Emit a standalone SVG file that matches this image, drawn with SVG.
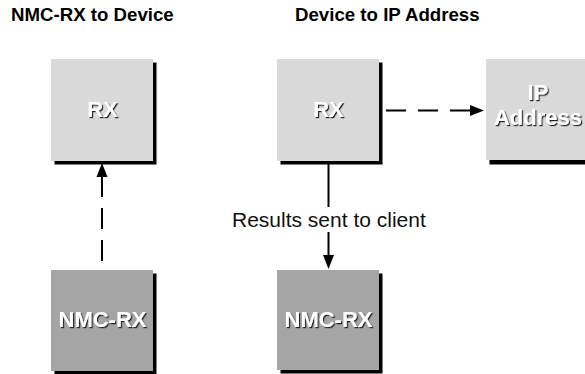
<svg xmlns="http://www.w3.org/2000/svg" width="585" height="374" viewBox="0 0 585 374">
  <defs>
    <!-- embossed look for the box labels: white face, dark edge down-right -->
    <filter id="emboss" x="-10%" y="-20%" width="130%" height="150%">
      <feDropShadow dx="1.2" dy="1.2" stdDeviation="0.3" flood-color="#222" flood-opacity="1"/>
    </filter>
  </defs>
  <style>
    .title { font-family: "Liberation Sans", Arial, sans-serif; font-weight: bold; font-size: 18.67px; fill: #000; }
    .note { font-family: "Liberation Sans", Arial, sans-serif; font-size: 21px; fill: #111; }
    .shadow { fill: #000; }
    .light { fill: #dadada; }
    .dark { fill: #a5a5a5; }
    .lbl { font-family: "Liberation Sans", Arial, sans-serif; font-weight: bold; font-size: 22px; text-anchor: middle; fill: #fff; filter: url(#emboss); }
    .wire { stroke: #000; stroke-width: 2; fill: none; }
    .dash { stroke-dasharray: 20 12; }
    .head { fill: #000; }
  </style>

  <text class="title" x="11" y="21">NMC-RX to Device</text>
  <text class="title" x="295" y="21">Device to IP Address</text>

  <!-- left panel: device box -->
  <g id="rx-left">
    <rect class="shadow" x="54.5" y="62.5" width="102" height="102"/>
    <rect class="light" x="51" y="59" width="102" height="102"/>
    <text class="lbl" x="102.5" y="117">RX</text>
  </g>

  <!-- left panel: manager box -->
  <g id="nmc-left">
    <rect class="shadow" x="54.5" y="273.5" width="102" height="101"/>
    <rect class="dark" x="51" y="270" width="102" height="101"/>
    <text class="lbl" x="102.5" y="327">NMC-RX</text>
  </g>

  <!-- right panel: device box -->
  <g id="rx-right">
    <rect class="shadow" x="280.5" y="62.5" width="102" height="102"/>
    <rect class="light" x="277" y="59" width="102" height="102"/>
    <text class="lbl" x="328.5" y="117">RX</text>
  </g>

  <!-- right panel: address box, two-line label -->
  <g id="ip-address">
    <rect class="shadow" x="489.5" y="62.5" width="102" height="102"/>
    <rect class="light" x="486" y="59" width="102" height="101"/>
    <text class="lbl" x="538" y="100"><tspan x="538">IP</tspan><tspan x="538" dy="25">Address</tspan></text>
  </g>

  <!-- right panel: manager box -->
  <g id="nmc-right">
    <rect class="shadow" x="280.5" y="273.5" width="102" height="100"/>
    <rect class="dark" x="277" y="270" width="102" height="100"/>
    <text class="lbl" x="328.5" y="327">NMC-RX</text>
  </g>

  <g id="connectors">
    <!-- NMC-RX up to RX, dashed -->
    <path class="wire" d="M102,261 V176" style="stroke-dasharray: 21 11"/>
    <polygon class="head" points="102,163 96.5,177 107.5,177"/>

    <!-- RX to IP Address, dashed -->
    <path class="wire dash" d="M386,110.5 H471"/>
    <polygon class="head" points="484,110.5 470,105 470,116"/>

    <!-- RX down to NMC-RX, solid, broken by its label -->
    <path class="wire" d="M328.5,164 V207 M328.5,232 V256"/>
    <polygon class="head" points="328.5,269 323,255 334,255"/>
    <text class="note" x="232" y="226.5">Results sent to client</text>
  </g>
</svg>
